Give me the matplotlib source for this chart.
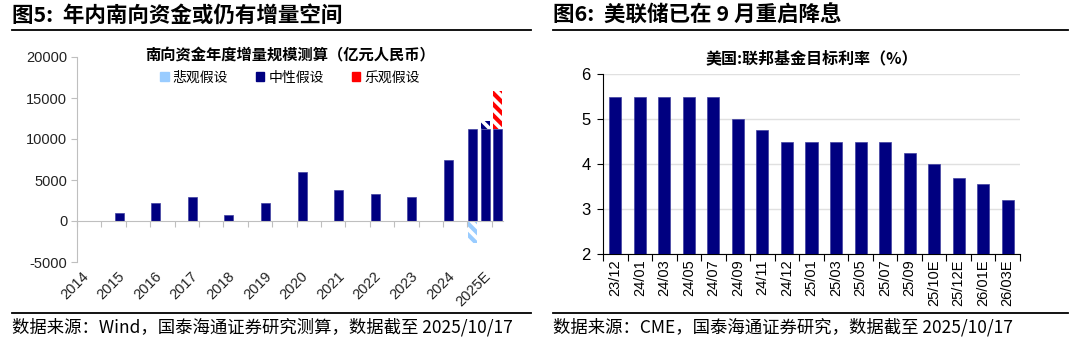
import matplotlib
matplotlib.use('Agg')
import matplotlib.pyplot as plt
from matplotlib.patches import Patch
import numpy as np

plt.rcParams['font.family'] = ['Noto Sans CJK SC', 'DejaVu Sans']
plt.rcParams['hatch.linewidth'] = 3

# left chart: southbound flow by year (100m RMB)
years = ['2014', '2015', '2016', '2017', '2018', '2019', '2020', '2021',
         '2022', '2023', '2024', '2025E']
flow = [50, 1000, 2150, 2950, 700, 2200, 5950, 3800, 3350, 2950, 7450, 11270]
pess_add = -2650
neut_add = 900
opt_add = 4570
legend_labels = ['悲观假设', '中性假设', '乐观假设']

# right chart: fed funds target rate
months = ['23/12', '24/01', '24/03', '24/05', '24/07', '24/09', '24/11', '24/12',
          '25/01', '25/03', '25/05', '25/07', '25/09', '25/10E', '25/12E',
          '26/01E', '26/03E']
rate = [5.5, 5.5, 5.5, 5.5, 5.5, 5.0, 4.75, 4.5, 4.5, 4.5, 4.5, 4.5, 4.25,
        4.0, 3.7, 3.55, 3.2]

navy = '#000080'
lblue = '#99ccff'
red = '#ff0000'
axgray = '#bfbfbf'
num_font = ['Liberation Sans', 'Noto Sans CJK SC']

fig = plt.figure(figsize=(10.8, 3.47), dpi=100)

# headers, rules, footnotes
fig.text(12/1080, 1-15/347, '图5:  年内南向资金或仍有增量空间', fontsize=15.5,
         fontweight='bold', va='center', ha='left')
fig.text(553/1080, 1-15/347, '图6:  美联储已在 9 月重启降息', fontsize=15.5,
         fontweight='bold', va='center', ha='left')
for x0, x1 in [(12, 531), (553, 1068)]:
    fig.add_artist(plt.Line2D([x0/1080, x1/1080], [1-29.5/347]*2, color='black', lw=1.3))
    fig.add_artist(plt.Line2D([x0/1080, x1/1080], [1-312.5/347]*2, color='black', lw=1.3))
fig.text(12/1080, 1-327/347, '数据来源：Wind，国泰海通证券研究测算，数据截至 2025/10/17',
         fontsize=12.5, va='center', ha='left')
fig.text(553/1080, 1-327/347, '数据来源：CME，国泰海通证券研究，数据截至 2025/10/17',
         fontsize=12.5, va='center', ha='left')

# ---- left chart
ax = fig.add_axes([77/1080, 1-262/347, 426/1080, 205/347])
step = 1.5
w = 0.37
centers = 0.225 + step * np.arange(len(years))
ax.bar(centers[:-1], flow[:-1], width=w, color=navy, edgecolor='#4040a0', lw=0.5)
c25 = centers[-1]
base = flow[-1]
xs = [c25 - 0.51, c25, c25 + 0.5]
ax.bar(xs, [base]*3, width=w, color=navy, edgecolor='#4040a0', lw=0.5)
ax.bar(xs[0], pess_add, width=w, color='white', edgecolor=lblue, hatch='\\\\\\', lw=0)
ax.bar(xs[1], neut_add, bottom=base, width=w, color='white', edgecolor=navy, hatch='\\\\\\', lw=0)
ax.bar(xs[2], opt_add, bottom=base, width=w, color='white', edgecolor=red, hatch='\\\\\\', lw=0)

ax.set_xlim(0, 17.46)
ax.set_ylim(-5000, 20000)
ax.set_yticks([-5000, 0, 5000, 10000, 15000, 20000])
ax.set_yticklabels(['-5000', '0', '5000', '10000', '15000', '20000'], family=num_font)
ax.set_xticks(np.arange(0, 18))
ax.set_xticklabels([])
for s in ['top', 'right']:
    ax.spines[s].set_visible(False)
ax.spines['bottom'].set_position(('data', 0))
ax.spines['bottom'].set_color(axgray)
ax.spines['left'].set_color(axgray)
ax.tick_params(axis='x', length=4, color=axgray, direction='out')
ax.tick_params(axis='y', length=4, color=axgray, direction='out', labelsize=10.5,
               labelcolor='#222222', pad=3)
for c, lab in zip(centers, years):
    ax.text(c + 0.15, -0.06, lab, transform=ax.get_xaxis_transform(), rotation=45,
            rotation_mode='anchor', ha='right', va='center', fontsize=10.5,
            family=num_font, color='#222222')
ax.set_facecolor('none')
ax.set_title('南向资金年度增量规模测算（亿元人民币）', fontsize=11, fontweight='bold',
             x=0.5, y=1.0, pad=-2)
handles = [Patch(color=lblue), Patch(color=navy), Patch(color=red)]
ax.legend(handles, legend_labels, loc='center', bbox_to_anchor=(0.5, 0.9), ncol=3,
          frameon=False, fontsize=10, handlelength=0.6, handleheight=0.6,
          handletextpad=0.3, columnspacing=2.0)

# ---- right chart
ax2 = fig.add_axes([603/1080, 1-254/347, 417/1080, 180/347])
pos = np.arange(len(months))
ax2.bar(pos, rate, width=0.49, color=navy, edgecolor='#4040a0', lw=0.5, zorder=3)
ax2.set_xlim(-0.5, len(months) - 0.5)
ax2.set_ylim(2, 6)
ax2.set_yticks([2, 3, 4, 5, 6])
ax2.set_yticklabels(['2', '3', '4', '5', '6'], family=num_font)
ax2.yaxis.grid(True, color='#e0e0e0', lw=1, zorder=0)
ax2.set_xticks(np.arange(-0.5, len(months)))
ax2.set_xticklabels([])
ax2.set_xticks(pos, minor=True)
ax2.set_xticklabels(months, minor=True, rotation=90, fontsize=10.5, family=num_font,
                    va='top')
ax2.tick_params(axis='x', which='minor', length=0, pad=4)
ax2.tick_params(axis='x', which='major', length=5, direction='out', color='black')
ax2.tick_params(axis='y', length=4, direction='out', labelsize=12, pad=5)
for s in ['top', 'right']:
    ax2.spines[s].set_visible(False)
ax2.set_facecolor('none')
ax2.set_title('美国:联邦基金目标利率（%）', fontsize=11.5, fontweight='bold', pad=8)

fig.savefig('out.png', dpi=100)
